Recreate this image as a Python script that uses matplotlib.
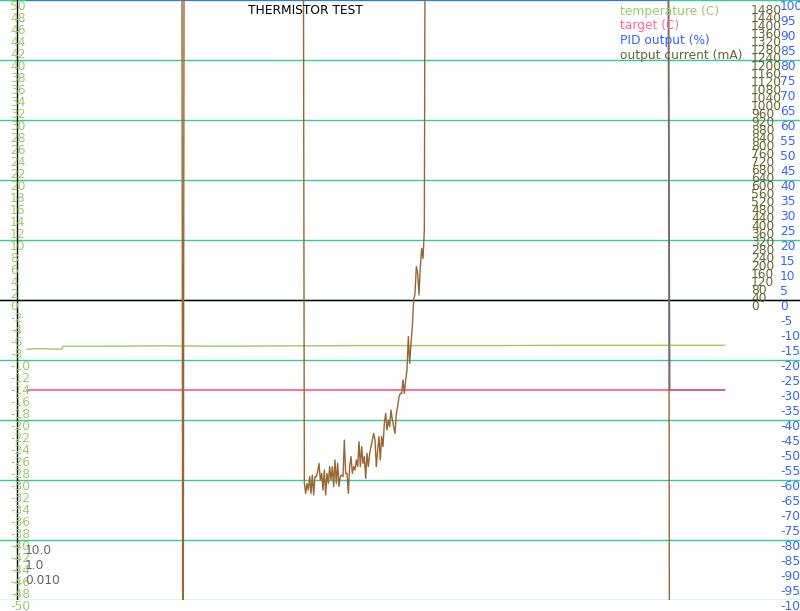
# Thermistor test log - temperature, target, PID output and output current
import numpy as np
import matplotlib.pyplot as plt
from matplotlib.transforms import blended_transform_factory

# -------------------- Data --------------------
# time in samples (1 sample per second)
temp_time = [0, 10, 20, 26, 27, 60, 100, 150, 200, 250, 300, 350, 400, 450, 500, 523]
temp_vals = [-8.2, -8.1, -8.2, -8.2, -7.7, -7.7, -7.65, -7.7, -7.65, -7.6, -7.6,
             -7.6, -7.55, -7.55, -7.55, -7.55]

target_time = [0, 523]
target_vals = [-15, -15]

pid_time = [0, 481, 482, 523]
pid_vals = [100, 100, -30, -30]

# output current: off scale (+/-3000 mA) outside the logged window
current_head_time = [0, 116, 117, 118, 207]
current_head_vals = [3000, 3000, -3000, 3000, 3000]
current_noise = [-917, -967, -917, -950, -883, -967, -875, -975, -883, -883,
                 -858, -817, -900, -867, -950, -850, -975, -867, -917, -833,
                 -900, -833, -933, -800, -917, -817, -933, -883, -875, -883,
                 -700, -867, -867, -967, -833, -783, -867, -833, -850, -800,
                 -833, -708, -833, -733, -817, -783, -892, -767, -833, -767,
                 -733, -700, -667, -700, -833, -750, -683, -800, -683, -733,
                 -617, -567, -650, -600, -633, -550, -600, -633, -667, -567,
                 -533, -483, -467, -467, -400, -467, -400, -350, -183, -317,
                 -217, -133, 0, 33, 167, 133, 25, 167, 258, 208, 350]
current_noise_start = 208
current_tail_time = [299, 481, 482, 523]
current_tail_vals = [3000, 3000, -3000, -3000]

temp_ticks = list(range(50, -51, -2))
pid_ticks = list(range(100, -101, -5))
current_ticks = list(range(0, 1481, 40))
gains = ["10.0", "1.0", "0.010"]
# ----------------------------------------------------

noise_time = list(range(current_noise_start, current_noise_start + len(current_noise)))
current_time = current_head_time + noise_time + current_tail_time
current_vals = current_head_vals + current_noise + current_tail_vals

# ---------------- Colours ----------------
c_temp = "#99cc66"
c_target = "#ff5590"
c_pid = "#3366ff"
c_current = "#996633"
c_current_lbl = "#666633"
c_grid = "#33cc99"

# ---------------- Figure ----------------
fig = plt.figure(figsize=(8, 6.11), dpi=100)
rect = [0, 11 / 611, 1, 600 / 611]
axg = fig.add_axes(rect)          # grid layer (bottom)
ax2 = fig.add_axes(rect)          # PID output
ax = fig.add_axes(rect)           # temperature / target
ax3 = fig.add_axes(rect)          # output current (top)
for z, a in enumerate((axg, ax2, ax, ax3)):
    a.set_axis_off()
    a.set_zorder(z)
    a.set_xlim(-20.25, 579.75)
axg.set_ylim(-50, 50)
ax.set_ylim(-50, 50)
ax2.set_ylim(-100, 100)
ax3.set_ylim(-1500, 1500)

# grid and axes lines
for v in range(-50, 51, 10):
    axg.axhline(v, color=c_grid, lw=1)
axg.axhline(0, color="black", lw=1)
axg.axvline(-7.5, color="black", lw=1)

# series
ax.plot(temp_time, temp_vals, color=c_temp, lw=1)
ax.plot(target_time, target_vals, color=c_target, lw=1.2)
ax2.plot(pid_time, pid_vals, color=c_pid, lw=1.2, clip_on=False)
ax3.plot(current_time, current_vals, color=c_current, lw=1)

# tick labels
fs = 8.8
tr1 = blended_transform_factory(ax.transAxes, ax.transData)
for v in temp_ticks:
    ax.text(10 / 800, v, str(v), transform=tr1, color=c_temp, fontsize=fs,
            ha="left", va="top")
tr2 = blended_transform_factory(ax2.transAxes, ax2.transData)
for v in pid_ticks:
    ax2.text(780 / 800, v, str(v), transform=tr2, color=c_pid, fontsize=fs,
             ha="left", va="top")
tr3 = blended_transform_factory(ax3.transAxes, ax3.transData)
for v in current_ticks:
    ax3.text(751 / 800, v, str(v), transform=tr3, color=c_current_lbl, fontsize=fs,
             ha="left", va="top")

# title, legend, gains
fig.text(305 / 800, 1 - 11 / 611, "THERMISTOR TEST", color="black", fontsize=fs,
         ha="center", va="center")
legend = [("temperature (C)", c_temp), ("target (C)", "#ff6699"),
          ("PID output (%)", c_pid), ("output current (mA)", c_current_lbl)]
for i, (txt, col) in enumerate(legend):
    fig.text(620 / 800, 1 - (11 + 14.7 * i) / 611, txt, color=col, fontsize=fs,
             ha="left", va="center")
for i, g in enumerate(gains):
    fig.text(25 / 800, 1 - (551 + 14.5 * i) / 611, g, color="#666666", fontsize=fs,
             ha="left", va="center")

fig.savefig("out.png", dpi=100)
